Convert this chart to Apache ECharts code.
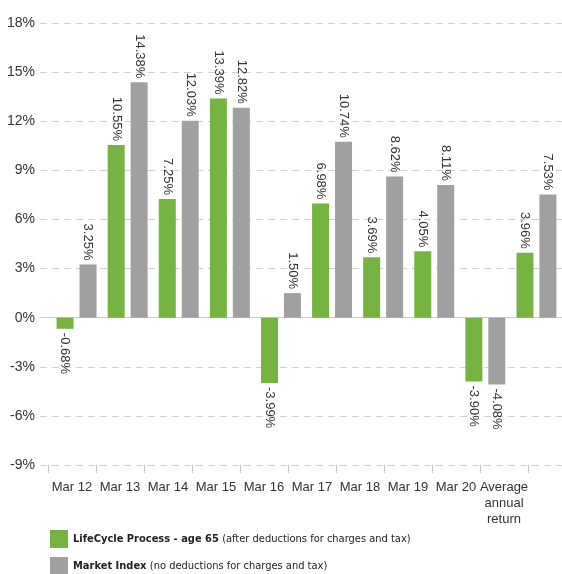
<!DOCTYPE html>
<html>
<head>
<meta charset="utf-8">
<script src="https://cdn.jsdelivr.net/npm/echarts@6/dist/echarts.min.js"></script>
<style>
  html, body { margin: 0; padding: 0; background: #fff; }
  #chart { width: 562px; height: 574px; }
</style>
</head>
<body>
<div id="chart"></div>
<script>
const categories = ["Mar 12", "Mar 13", "Mar 14", "Mar 15", "Mar 16", "Mar 17", "Mar 18", "Mar 19", "Mar 20", "Average\nannual\nreturn"];
const lifeCycle = [-0.68, 10.55, 7.25, 13.39, -3.99, 6.98, 3.69, 4.05, -3.90, 3.96];
const marketIndex = [3.25, 14.38, 12.03, 12.82, 1.50, 10.74, 8.62, 8.11, -4.08, 7.53];
const yMin = -9, yMax = 18, yStep = 3;

const numFont = "Liberation Sans";
const narrowFont = "'DejaVu Sans Condensed', sans-serif";

// rotated labels: above positive bars, below negative ones
function withLabels(values) {
  return values.map(v => ({
    value: v,
    label: v >= 0
      ? { position: "top", align: "right" }
      : { position: "bottom", align: "left" }
  }));
}

const barLabel = {
  show: true,
  rotate: -90,
  verticalAlign: "middle",
  distance: 4,
  color: "#333",
  fontFamily: numFont,
  fontSize: 13,
  formatter: p => p.value.toFixed(2) + "%"
};

const legendRich = {
  b: { fontFamily: narrowFont, fontWeight: "bold", fontSize: 11, color: "#222" },
  n: { fontFamily: narrowFont, fontSize: 11, color: "#222" }
};

function legendFor(name, note, top) {
  return {
    orient: "vertical",
    left: 45,
    top: top,
    itemWidth: 18,
    itemHeight: 18,
    icon: "rect",
    data: [name],
    formatter: n => "{b|" + n + "} {n|" + note + "}",
    textStyle: { rich: legendRich }
  };
}

let myChart = echarts.init(document.getElementById("chart"));
let option = {
  animation: false,
  grid: [
    { left: 40, right: 0, top: 23, bottom: 109 },       // y labels, dashed lines, zero line
    { left: 48, width: 480, top: 23, bottom: 109 },     // category labels + ticks
    { left: 51, width: 516, top: 23, bottom: 109 }      // bars
  ],
  xAxis: [
    {
      gridIndex: 0, type: "value", min: 0, max: 1,
      axisLabel: { show: false }, axisTick: { show: false }, splitLine: { show: false },
      axisLine: { show: true, onZero: true, lineStyle: { color: "#c8c8c8", width: 1 } }
    },
    {
      gridIndex: 1, type: "category", data: categories,
      axisLine: { show: false, onZero: false },
      axisTick: { show: true, length: 8, lineStyle: { color: "#c8c8c8" } },
      axisLabel: { interval: 0, color: "#333", fontFamily: numFont, fontSize: 13, margin: 14, lineHeight: 16 }
    },
    {
      gridIndex: 2, type: "category", data: categories, show: false
    }
  ],
  yAxis: [
    {
      gridIndex: 0, type: "value", min: yMin, max: yMax, interval: yStep,
      axisLine: { show: false }, axisTick: { show: false },
      axisLabel: { formatter: "{value}%", color: "#333", fontFamily: numFont, fontSize: 14, margin: 5 },
      splitLine: { show: true, lineStyle: { color: "#d0d0d0", type: [7, 5], width: 1 } }
    },
    { gridIndex: 1, type: "value", min: yMin, max: yMax, show: false },
    { gridIndex: 2, type: "value", min: yMin, max: yMax, show: false }
  ],
  legend: [
    legendFor("LifeCycle Process - age 65", "(after deductions for charges and tax)", 525),
    legendFor("Market Index", "(no deductions for charges and tax)", 552)
  ],
  series: [
    {
      name: "LifeCycle Process - age 65",
      type: "bar",
      xAxisIndex: 2, yAxisIndex: 2,
      barWidth: 17,
      barGap: "35%",
      itemStyle: { color: "#76b343" },
      label: barLabel,
      data: withLabels(lifeCycle)
    },
    {
      name: "Market Index",
      type: "bar",
      xAxisIndex: 2, yAxisIndex: 2,
      barWidth: 17,
      barGap: "35%",
      itemStyle: { color: "#a0a0a1" },
      label: barLabel,
      data: withLabels(marketIndex)
    }
  ]
};
myChart.setOption(option);
</script>
</body>
</html>
